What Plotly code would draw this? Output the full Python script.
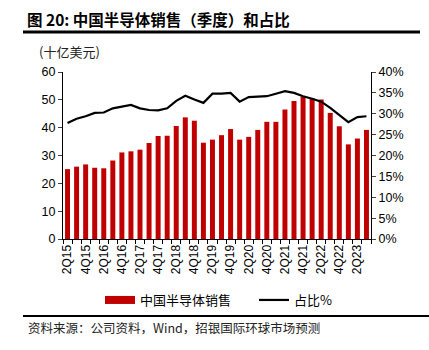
import plotly.graph_objects as go

quarters = ["2Q15","3Q15","4Q15","1Q16","2Q16","3Q16","4Q16","1Q17","2Q17","3Q17","4Q17","1Q18",
            "2Q18","3Q18","4Q18","1Q19","2Q19","3Q19","4Q19","1Q20","2Q20","3Q20","4Q20","1Q21",
            "2Q21","3Q21","4Q21","1Q22","2Q22","3Q22","4Q22","1Q23","2Q23","3Q23"]
sales = [25.1, 26.0, 26.8, 25.6, 25.4, 28.2, 31.1, 31.5, 32.1, 34.5, 37.0, 37.1,
         40.6, 43.7, 42.5, 34.6, 35.7, 37.3, 39.5, 35.7, 36.7, 39.2, 42.1, 42.1,
         46.5, 49.6, 51.1, 50.6, 50.1, 45.3, 40.5, 34.0, 36.1, 39.2]
share = [27.8, 28.8, 29.4, 30.2, 30.3, 31.3, 31.7, 32.1, 31.3, 30.9, 30.8, 31.3,
         33.1, 34.3, 33.4, 32.6, 34.8, 34.8, 35.0, 32.9, 34.0, 34.1, 34.2, 34.8,
         35.4, 35.0, 34.2, 33.6, 32.9, 31.4, 29.6, 28.0, 29.2, 29.4]
share_frac = [v / 100 for v in share]

x_idx = list(range(len(quarters)))
label_idx = x_idx[::2]
label_txt = quarters[::2]

num_font = "Liberation Sans, Arial, sans-serif"
cjk_font = "Noto Sans CJK SC, sans-serif"
RED = "#C00000"

# plot area in pixels: left 63, right 371, top 72, bottom 239
PL, PR, PT, PB = 63, 371, 72, 239
def px_x(p):
    return (p - PL) / (PR - PL)
def px_y(p):
    return (PB - p) / (PB - PT)

fig = go.Figure()
fig.add_trace(go.Bar(x=x_idx, y=sales, name="中国半导体销售", marker_color=RED,
                     marker_line_width=0, width=0.55, yaxis="y", showlegend=False))
fig.add_trace(go.Scatter(x=x_idx, y=share_frac, name="占比%", mode="lines",
                         line=dict(color="black", width=2.2), yaxis="y2", showlegend=False))
# legend entries (wide swatches like the reference)
fig.add_trace(go.Scatter(x=[None], y=[None], name="中国半导体销售", mode="lines",
                         line=dict(color=RED, width=8), yaxis="y", legend="legend"))
fig.add_trace(go.Scatter(x=[None], y=[None], name="占比%", mode="lines",
                         line=dict(color="black", width=2.2), yaxis="y2", legend="legend2"))

leg_common = dict(orientation="h", xanchor="left", y=px_y(300), yanchor="middle",
                  font=dict(family=cjk_font, size=13), itemwidth=30,
                  bgcolor="rgba(0,0,0,0)")

fig.update_layout(
    width=429, height=350,
    margin=dict(l=PL, r=429 - PR, t=PT, b=350 - PB),
    paper_bgcolor="white", plot_bgcolor="white",
    font=dict(family=num_font, size=12, color="black"),
    showlegend=True,
    legend=dict(x=px_x(100), **leg_common),
    legend2=dict(x=px_x(254), **leg_common),
    xaxis=dict(range=[-0.5, len(quarters) - 0.5], tickmode="array", tickvals=label_idx,
               ticktext=label_txt, tickangle=-90, ticks="", showline=True, linecolor="black",
               linewidth=1, tickfont=dict(family=num_font, size=12),
               minor=dict(tickmode="linear", tick0=-0.5, dtick=1, ticks="outside",
                          ticklen=4, tickcolor="black", showgrid=False),
               showgrid=False, zeroline=False),
    yaxis=dict(range=[0, 60], dtick=10, showline=True, linecolor="black", linewidth=1,
               ticks="outside", ticklen=4, showgrid=False, zeroline=False,
               tickfont=dict(family=num_font, size=12.5)),
    yaxis2=dict(range=[0, 0.40], dtick=0.05, tickformat=".0%", overlaying="y", side="right",
                showline=True, linecolor="black", linewidth=1, ticks="outside", ticklen=4,
                showgrid=False, zeroline=False, tickfont=dict(family=num_font, size=12.5)),
    bargap=0.45,
)

fig.add_annotation(text="<b>图 20: 中国半导体销售（季度）和占比</b>", xref="paper", yref="paper",
                   x=px_x(25), y=px_y(19), xanchor="left", yanchor="middle", showarrow=False,
                   font=dict(family=cjk_font, size=15.5, color="black"))
fig.add_annotation(text="(十亿美元)", xref="paper", yref="paper", x=px_x(37), y=px_y(52),
                   xanchor="left", yanchor="middle", showarrow=False,
                   font=dict(family=cjk_font, size=13, color="#222222"))
fig.add_annotation(text="资料来源：公司资料，Wind，招银国际环球市场预测", xref="paper", yref="paper",
                   x=px_x(26), y=px_y(327), xanchor="left", yanchor="middle", showarrow=False,
                   font=dict(family=cjk_font, size=12.5, color="#222222"))
fig.add_shape(type="line", xref="paper", yref="paper", x0=px_x(23), x1=px_x(420),
              y0=px_y(32), y1=px_y(32), line=dict(color="black", width=3))
fig.add_shape(type="line", xref="paper", yref="paper", x0=px_x(23), x1=px_x(429),
              y0=px_y(316), y1=px_y(316), line=dict(color="black", width=2))

fig.write_html("out.html")
